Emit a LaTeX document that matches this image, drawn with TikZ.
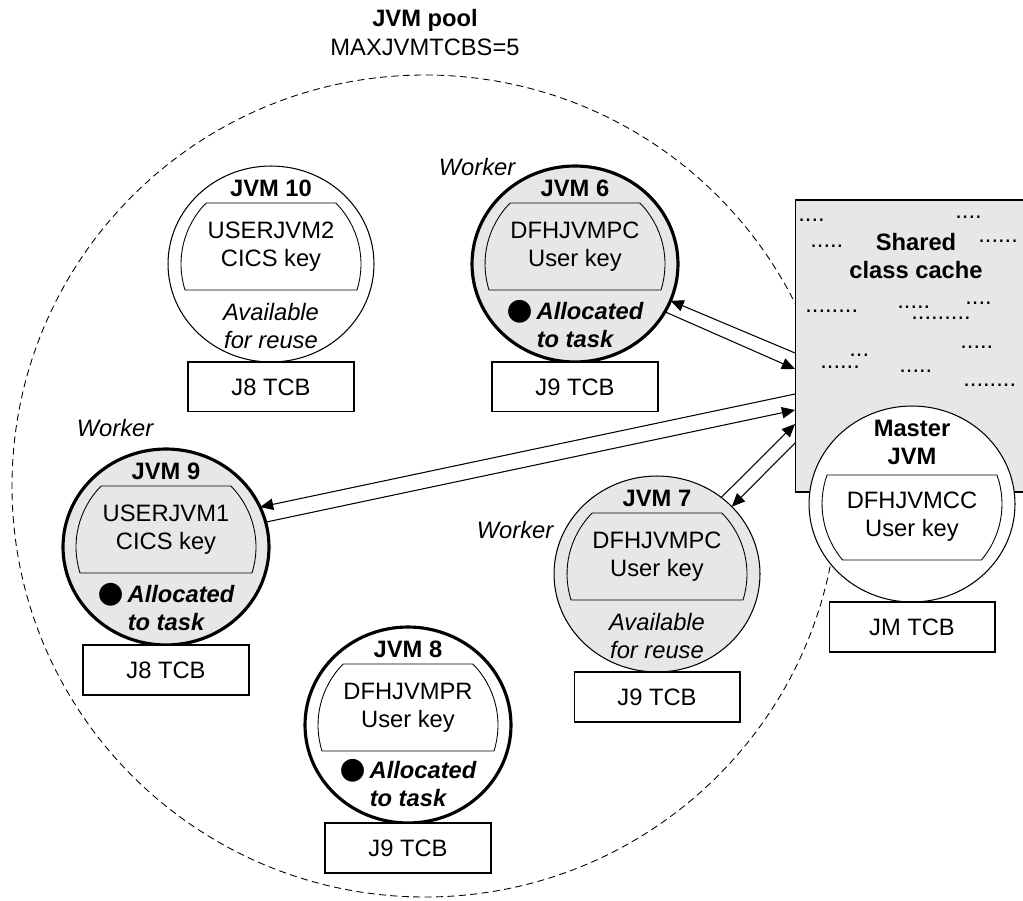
\documentclass[tikz,border=0pt]{standalone}
\usepackage{fontspec}
\setmainfont{Liberation Sans}
\newfontfamily\bulletfont{DejaVu Sans}
\usetikzlibrary{shapes.geometric,positioning,arrows.meta}
\definecolor{jvmgray}{RGB}{230,231,232}

\tikzset{
  jvm/.style={ellipse,draw,line width=0.6pt,fill=white,minimum width=4.12cm,minimum height=3.92cm,inner sep=0pt,outer sep=0pt},
  busy/.style={line width=1.8pt},
  worker/.style={fill=jvmgray},
  tcb/.style={draw,line width=0.6pt,fill=white,minimum width=3.32cm,minimum height=1cm,inner sep=0pt,outer sep=0pt},
  band/.style={draw,line width=0.5pt},
  jvmname/.style={font=\bfseries,align=center},
  keytext/.style={align=center},
  state/.style={align=center,font=\itshape},
  alloc/.style={align=center,font=\bfseries\itshape},
  role/.style={font=\itshape},
  link/.style={line width=0.6pt,-{Triangle[length=7.5pt,width=6.5pt]}},
  dots/.style={anchor=base west,inner sep=0pt},
}

\newcommand{\bigdot}{{\bulletfont\fontsize{17}{16}\selectfont ●}}
% band inside a JVM: #1 node, #2 upper angle, #3 lower angle, #4 fill
\newcommand{\jvmband}[4]{%
  \path[band,fill=#4] ([shift={(#2:90 and 88)}]#1.center) -- ([shift={(180-#2:90 and 88)}]#1.center)
    arc[start angle=180-#2, end angle=180-(#3), x radius=90, y radius=88]
    -- ([shift={(#3:90 and 88)}]#1.center)
    arc[start angle=#3, end angle=#2, x radius=90, y radius=88] -- cycle;}

\begin{document}
\fontsize{13.5}{16}\selectfont
\begin{tikzpicture}[x=0.02cm,y=0.02cm]
\useasboundingbox (0,0) rectangle (1023,900);

% Pool
\draw[line width=0.5pt,dash pattern=on 4pt off 2.5pt] (425,414) ellipse [x radius=413, y radius=411];
\node[jvmname] (pool) at (425,880) {JVM pool};
\node (maxtcb) at (425,853) {MAXJVMTCBS=5};

% Shared class cache
\node[draw,line width=0.6pt,fill=jvmgray,minimum width=4.8cm,minimum height=5.84cm,inner sep=0pt,outer sep=0pt] (cache) at (915,554) {};
\node[jvmname] (cachename) at (916,644) {Shared\\class cache};
\node[dots] (dot1) at (798,678) {....};
\node[dots] (dot2) at (955,681) {....};
\node[dots] (dot3) at (810,652) {.....};
\node[dots] (dot4) at (978,657) {......};
\node[dots] (dot5) at (805,587) {........};
\node[dots] (dot6) at (897,591) {.....};
\node[dots] (dot7) at (965,595) {....};
\node[dots] (dot8) at (911,580) {.........};
\node[dots] (dot9) at (960,551) {.....};
\node[dots] (dot10) at (849,543) {...};
\node[dots] (dot11) at (820,531) {......};
\node[dots] (dot12) at (899,527) {.....};
\node[dots] (dot13) at (963,514) {........};

% JVM 10
\node[jvm] (jvm10) at (271,636) {};
\jvmband{jvm10}{43.9}{-17.18}{white}
\node[jvmname] (name10) at ([shift={(0,76)}]jvm10.center) {JVM 10};
\node[keytext] (key10) at ([shift={(0,17.5)}]jvm10.center) {USERJVM2\\CICS key};
\node[state] (state10) at ([shift={(0,-62)}]jvm10.center) {Available\\for reuse};
\node[tcb,below=0pt of jvm10] (tcb10) {J8 TCB};

% JVM 6
\node[jvm,busy,worker] (jvm6) at (575,636) {};
\jvmband{jvm6}{43.9}{-17.18}{jvmgray}
\node[jvmname] (name6) at ([shift={(0,76)}]jvm6.center) {JVM 6};
\node[keytext] (key6) at ([shift={(0,17.5)}]jvm6.center) {DFHJVMPC\\User key};
\node[alloc] (state6) at ([shift={(0,-60)}]jvm6.center) {\bigdot\,Allocated\\to task};
\node[tcb,below=0pt of jvm6] (tcb6) {J9 TCB};
\node[role] (role6) at (477,733) {Worker};

% JVM 9
\node[jvm,busy,worker] (jvm9) at (166,353) {};
\jvmband{jvm9}{43.9}{-17.18}{jvmgray}
\node[jvmname] (name9) at ([shift={(0,76)}]jvm9.center) {JVM 9};
\node[keytext] (key9) at ([shift={(0,17.5)}]jvm9.center) {USERJVM1\\CICS key};
\node[alloc] (state9) at ([shift={(0,-60)}]jvm9.center) {\bigdot\,Allocated\\to task};
\node[tcb,below=0pt of jvm9] (tcb9) {J8 TCB};
\node[role] (role9) at (115,472) {Worker};

% JVM 7
\node[jvm,worker] (jvm7) at (657,326) {};
\jvmband{jvm7}{43.9}{-17.18}{jvmgray}
\node[jvmname] (name7) at ([shift={(0,76)}]jvm7.center) {JVM 7};
\node[keytext] (key7) at ([shift={(0,17.5)}]jvm7.center) {DFHJVMPC\\User key};
\node[state] (state7) at ([shift={(0,-62)}]jvm7.center) {Available\\for reuse};
\node[tcb,below=0pt of jvm7] (tcb7) {J9 TCB};
\node[role] (role7) at (515,370) {Worker};

% JVM 8
\node[jvm,busy] (jvm8) at (408,175) {};
\jvmband{jvm8}{43.9}{-17.18}{white}
\node[jvmname] (name8) at ([shift={(0,76)}]jvm8.center) {JVM 8};
\node[keytext] (key8) at ([shift={(0,17.5)}]jvm8.center) {DFHJVMPR\\User key};
\node[alloc] (state8) at ([shift={(0,-58)}]jvm8.center) {\bigdot\,Allocated\\to task};
\node[tcb,below=0pt of jvm8] (tcb8) {J9 TCB};

% Master JVM
\node[jvm] (master) at (912,396) {};
\jvmband{master}{19.24}{-39.52}{white}
\node[jvmname] (mastername) at ([shift={(0,61.5)}]master.center) {Master\\JVM};
\node[keytext] (masterkey) at ([shift={(0,-12.5)}]master.center) {DFHJVMCC\\User key};
\node[tcb,below=0pt of master] (mastertcb) {JM TCB};

% Links to the cache
\draw[link] ([shift={(0,-7)}]cache.west) -- (jvm6.-21);
\draw[link] (jvm6.-28) -- ([shift={(0,-23)}]cache.west);
\draw[link] ([shift={(0,-48)}]cache.west) -- (jvm9.23);
\draw[link] (jvm9.14) -- ([shift={(0,-64)}]cache.west);
\draw[link] (jvm7.50) -- ([shift={(0,-78)}]cache.west);
\draw[link] ([shift={(0,-97)}]cache.west) -- (jvm7.42);
\end{tikzpicture}
\end{document}
